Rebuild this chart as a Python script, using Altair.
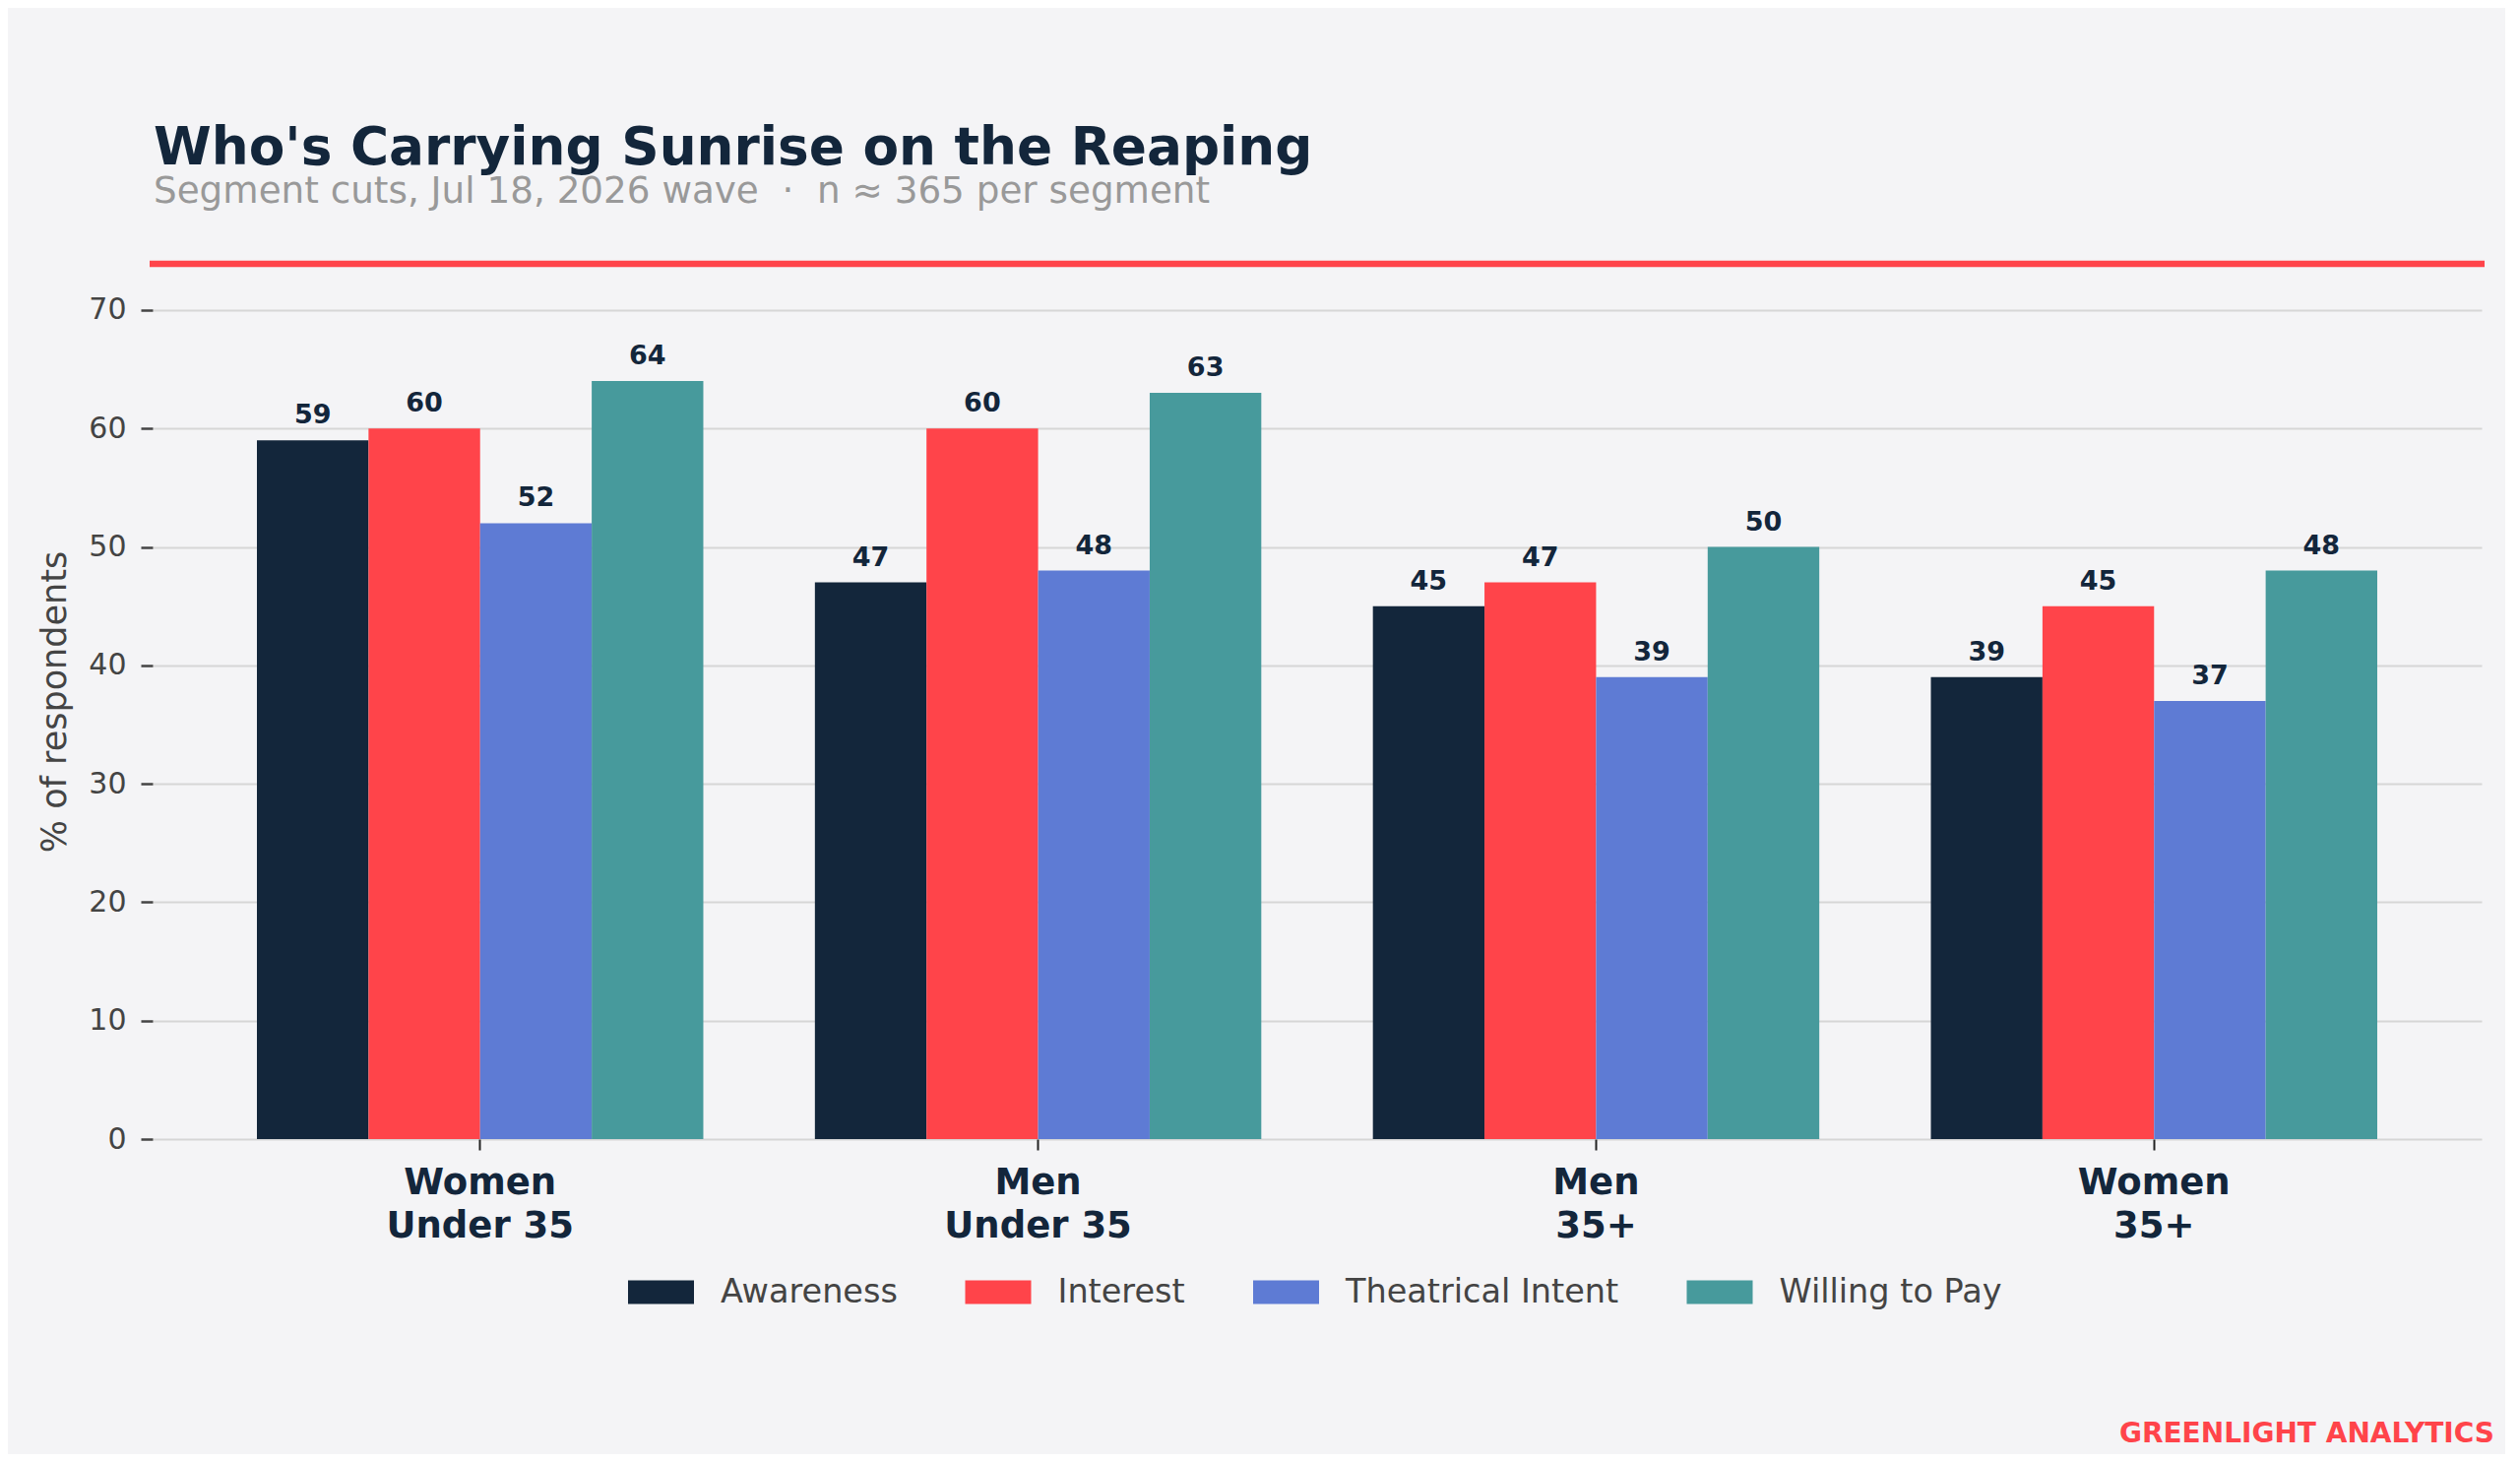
import altair as alt
import pandas as pd

# ---- data ----
segments = ["Women\nUnder 35", "Men\nUnder 35", "Men\n35+", "Women\n35+"]
metrics = ["Awareness", "Interest", "Theatrical Intent", "Willing to Pay"]
awareness = [59, 47, 45, 39]
interest = [60, 60, 47, 45]
theatrical = [52, 48, 39, 37]
willing = [64, 63, 50, 48]
colors = ["#13263B", "#FF444A", "#5E7BD4", "#479A9C"]

title_text = "Who's Carrying Sunrise on the Reaping"
subtitle_text = "Segment cuts, Jul 18, 2026 wave\u00a0\u00a0\u00b7\u00a0\u00a0n \u2248 365 per segment"
brand_text = "GREENLIGHT ANALYTICS"

series = [awareness, interest, theatrical, willing]
rows = []
for m, vals in zip(metrics, series):
    for s, v in zip(segments, vals):
        rows.append({"segment": s, "metric": m, "value": v})
df = pd.DataFrame(rows)

FONT = "DejaVu Sans"
NAVY = "#13263B"
RED = "#FF444A"
BG = "#F4F4F6"
W, H = 2366, 889

x_enc = alt.X(
    "segment:N",
    sort=segments,
    scale=alt.Scale(paddingInner=0.2, paddingOuter=0.187),
    axis=alt.Axis(
        title=None,
        domain=False,
        grid=False,
        ticks=True,
        tickSize=11,
        tickWidth=2,
        tickColor="#222222",
        labelAngle=0,
        labelFont=FONT,
        labelFontSize=37,
        labelFontWeight="bold",
        labelColor=NAVY,
        labelPadding=15,
        labelLineHeight=44,
        labelLimit=1000,
        labelExpr="split(datum.label, '\\n')",
    ),
)
xoff = alt.XOffset("metric:N", sort=metrics, scale=alt.Scale(paddingInner=0, paddingOuter=0))
y_enc = alt.Y(
    "value:Q",
    scale=alt.Scale(domain=[0, 73.9], nice=False, zero=True),
    axis=alt.Axis(
        title="% of respondents",
        values=[0, 10, 20, 30, 40, 50, 60, 70],
        domain=False,
        grid=True,
        gridColor="#D6D6D6",
        gridWidth=2,
        ticks=True,
        tickSize=12,
        tickWidth=2.5,
        tickColor="#444444",
        labelFont=FONT,
        labelFontSize=30,
        labelColor="#444444",
        labelPadding=15,
        titleFont=FONT,
        titleFontSize=35,
        titleFontWeight="normal",
        titleColor="#444444",
        titlePadding=16,
    ),
)

bars = alt.Chart(df).mark_bar().encode(
    x=x_enc,
    xOffset=xoff,
    y=y_enc,
    color=alt.Color(
        "metric:N",
        sort=metrics,
        scale=alt.Scale(domain=metrics, range=colors),
        legend=alt.Legend(
            title=None,
            orient="none",
            legendX=483,
            legendY=1011,
            direction="horizontal",
            columns=4,
            symbolType="M-1,-0.358H1V0.358H-1Z",
            symbolSize=4489,
            symbolStrokeWidth=0,
            symbolOpacity=1,
            labelFont=FONT,
            labelFontSize=33.5,
            labelColor="#444444",
            labelOffset=27,
            labelLimit=1000,
            columnPadding=68.5,
        ),
    ),
)

labels = alt.Chart(df).mark_text(
    font=FONT, fontSize=27, fontWeight="bold", color=NAVY,
    baseline="alphabetic", align="center", dy=-17,
).encode(
    x=alt.X("segment:N", sort=segments),
    xOffset=alt.XOffset("metric:N", sort=metrics),
    y=alt.Y("value:Q"),
    text=alt.Text("value:Q"),
)

one = pd.DataFrame({"k": [0]})

top_rule = alt.Chart(one).mark_rule(color=RED, strokeWidth=6.5).encode(
    x=alt.value(-3), x2=alt.value(W + 3), y=alt.value(0)
)

title = alt.Chart(pd.DataFrame({"t": [title_text]})).mark_text(
    font=FONT, fontSize=53.3, fontWeight="bold", color=NAVY,
    align="left", baseline="alphabetic",
).encode(x=alt.value(1), y=alt.value(-101), text="t:N")

subtitle = alt.Chart(pd.DataFrame({"t": [subtitle_text]})).mark_text(
    font=FONT, fontSize=37.3, color="#999999",
    align="left", baseline="alphabetic",
).encode(x=alt.value(1), y=alt.value(-62), text="t:N")

brand = alt.Chart(pd.DataFrame({"t": [brand_text]})).mark_text(
    font=FONT, fontSize=28, fontWeight="bold", color=RED,
    align="right", baseline="alphabetic",
).encode(x=alt.value(2379), y=alt.value(1197), text="t:N")

chart = alt.layer(bars, labels, top_rule, title, subtitle, brand).properties(
    width=W,
    height=H,
    background=BG,
    autosize=alt.AutoSizeParams(type="none"),
    padding={"left": 147, "top": 260, "right": 24, "bottom": 320},
).configure_view(stroke=None)

chart.save("out.html", embed_options={"renderer": "svg", "actions": False})
